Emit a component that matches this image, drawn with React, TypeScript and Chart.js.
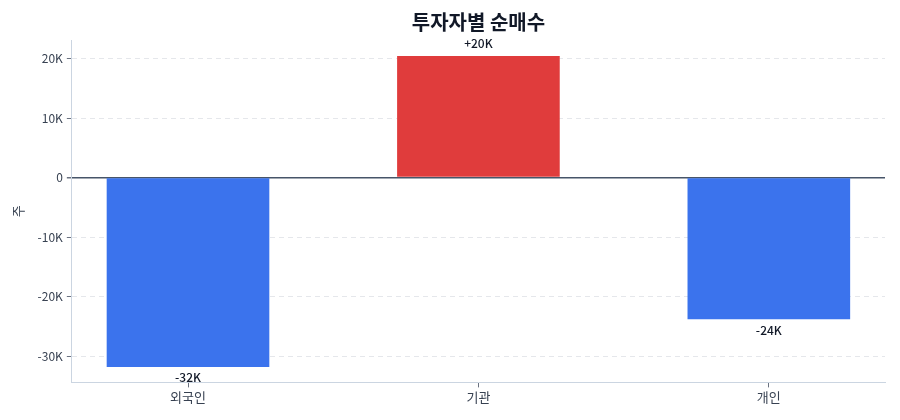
import { Chart, registerables } from "chart.js"
import { useEffect, useRef } from "react"

const investors = ["외국인", "기관", "개인"]
const netBuy = [-31800, 20400, -23800]
const yTicks = [-30000, -20000, -10000, 0, 10000, 20000]
const yMin = -34400
const yMax = 23100

const FONT = "'Noto Sans CJK KR', 'Noto Sans', sans-serif"

const fmtK = (v: number) => {
  const k = Math.round(v / 1000)
  if (k === 0) return "0"
  return (k > 0 ? "+" : "") + k + "K"
}

const valueLabels = {
  id: "valueLabels",
  afterDatasetsDraw(chart: any) {
    const ctx = chart.ctx
    const meta = chart.getDatasetMeta(0)
    ctx.save()
    ctx.font = "500 12px " + FONT
    ctx.fillStyle = "#111827"
    ctx.textAlign = "center"
    ctx.textBaseline = "middle"
    meta.data.forEach((bar: any, i: number) => {
      const v = netBuy[i]
      const y = v >= 0 ? bar.y - 13 : bar.y + 11
      ctx.fillText(fmtK(v), bar.x, y)
    })
    ctx.restore()
  }
}

const NetBuyChart = () => {
  const chartRef = useRef<HTMLCanvasElement>(null)

  useEffect(() => {
    document.body.style.margin = "0"
    Chart.register(...registerables)
    if (!chartRef.current) return
    const ctx = chartRef.current.getContext("2d")
    if (!ctx) return

    const c = new Chart(ctx, {
      type: "bar",
      data: {
        datasets: [{
          label: "순매수",
          data: netBuy.map((v, i) => ({ x: i, y: v })),
          backgroundColor: netBuy.map((v) => v >= 0 ? "#e03c3c" : "#3b73ed"),
          borderWidth: 0,
          barPercentage: 0.56,
          categoryPercentage: 1
        }]
      },
      options: {
        animation: false,
        responsive: false,
        layout: { padding: { top: 10, right: 15, bottom: 13, left: 10 } },
        plugins: {
          legend: { display: false },
          tooltip: { enabled: false },
          title: {
            display: true,
            text: "투자자별 순매수",
            fullSize: false,
            color: "#111827",
            font: { family: FONT, size: 20, weight: "bold" },
            padding: { top: 0, bottom: 6 }
          }
        },
        scales: {
          x: {
            type: "linear",
            offset: false,
            min: -0.4,
            max: 2.4,
            afterBuildTicks: (scale: any) => {
              scale.ticks = investors.map((_, i) => ({ value: i }))
            },
            ticks: {
              callback: (v: any) => investors[v] ?? "",
              color: "#374151",
              font: { family: FONT, size: 13 },
              padding: 2,
              maxRotation: 0
            },
            grid: {
              offset: false,
              drawOnChartArea: false,
              drawTicks: true,
              tickLength: 5,
              tickColor: "#6b7280"
            },
            border: { color: "#cbd5e1", width: 1 }
          },
          y: {
            min: yMin,
            max: yMax,
            afterBuildTicks: (scale: any) => {
              scale.ticks = yTicks.map((v) => ({ value: v }))
            },
            ticks: {
              callback: (v: any) => v === 0 ? "0" : (v / 1000) + "K",
              color: "#374151",
              font: { family: FONT, size: 12 },
              padding: 4
            },
            title: {
              display: true,
              text: "주",
              color: "#374151",
              font: { family: FONT, size: 13 },
              padding: { top: 0, bottom: 8 }
            },
            grid: {
              color: (c: any) => c.tick && c.tick.value === 0 ? "#475569" : "#e5e7eb",
              lineWidth: (c: any) => c.tick && c.tick.value === 0 ? 1.5 : 1,
              tickColor: "#6b7280",
              tickLength: 5
            },
            border: {
              color: "#cbd5e1",
              width: 1,
              dash: (c: any) => c.tick && c.tick.value === 0 ? [] : [5, 4]
            }
          }
        }
      },
      plugins: [valueLabels]
    } as any)
    return () => {
      c.destroy()
    }
  }, [])

  return (
    <canvas ref={chartRef} width={900} height={420} style={{ display: "block" }}></canvas>
  )
}

export default function App() {
  return <NetBuyChart />
}
